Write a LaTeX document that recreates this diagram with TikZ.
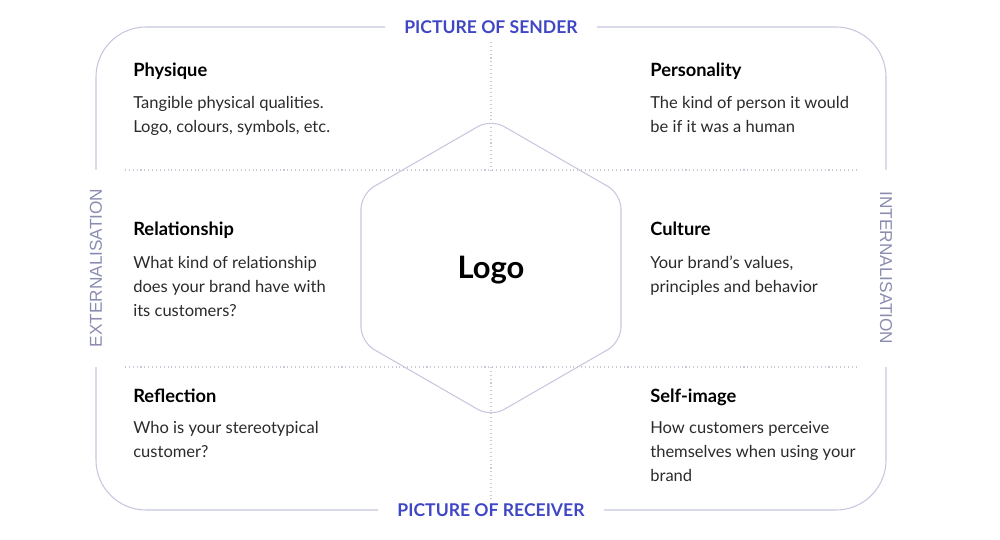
\documentclass[tikz,border=0pt]{standalone}
\usepackage{fontspec}
\setmainfont{Lato}
\newfontfamily\sidefont{Liberation Sans}
\definecolor{framecol}{HTML}{C6C7DE}
\definecolor{dotcol}{HTML}{C9CAD6}
\definecolor{labelblue}{HTML}{4047C4}
\definecolor{sidegrey}{HTML}{8A8DB0}
\definecolor{bodytext}{HTML}{2A2A2A}
\tikzset{
  frameline/.style={framecol, line width=0.6pt},
  gridline/.style={dotcol, line width=0.6pt, dash pattern=on 0.6pt off 1.6pt},
  headtext/.style={anchor=base west, inner sep=0pt, font=\fontsize{10.4}{12}\selectfont\bfseries},
  bodyblock/.style={anchor=north west, inner sep=0pt, align=left, text=bodytext,
    font=\fontsize{9.4}{13.6}\selectfont},
  axislabel/.style={inner sep=0pt, text=labelblue, font=\fontsize{10}{12}\selectfont\bfseries},
  sidelabel/.style={inner sep=0pt, text=sidegrey, font=\sidefont\fontsize{9.8}{12}\selectfont},
}
\begin{document}
\begin{tikzpicture}[x=0.02cm, y=-0.02cm]
  \useasboundingbox (0,0) rectangle (1000,540);
  % outer frame, broken for the labels
  \draw[frameline, rounded corners=1cm] (385,27) -- (96,27) -- (96,170);
  \draw[frameline, rounded corners=1cm] (96,367) -- (96,510) -- (378,510);
  \draw[frameline, rounded corners=1cm] (604,510) -- (886,510) -- (886,367);
  \draw[frameline, rounded corners=1cm] (886,170) -- (886,27) -- (597,27);
  % dotted grid
  \draw[gridline] (125,170) -- (857,170);
  \draw[gridline] (125,367) -- (857,367);
  \draw[gridline] (491,42) -- (491,170);
  \draw[gridline] (491,367) -- (491,500);
  % hexagon
  \draw[frameline, rounded corners=0.3cm] (491,119) -- (621,194) -- (621,342)
    -- (491,417) -- (361,342) -- (361,194) -- cycle;
  \node[font=\fontsize{17.6}{20}\selectfont\bfseries] (logo) at (491,270) {Logo};
  % axis labels
  \node[axislabel] (sender) at (491,27) {PICTURE OF SENDER};
  \node[axislabel] (receiver) at (491,510) {PICTURE OF RECEIVER};
  \node[sidelabel, rotate=90] (extern) at (96,268) {EXTERNALISATION};
  \node[sidelabel, rotate=-90] (intern) at (886,268) {INTERNALISATION};
  % left column
  \node[headtext] (physique) at (133,77) {Physique};
  \node[bodyblock] (physiquetxt) at (133,96) {Tangible physical qualities.\\Logo, colours, symbols, etc.};
  \node[headtext] (relation) at (133,236) {Relationship};
  \node[bodyblock] (relationtxt) at (133,256) {What kind of relationship\\does your brand have with\\its customers?};
  \node[headtext] (reflect) at (133,402) {Reflection};
  \node[bodyblock] (reflecttxt) at (133,421) {Who is your stereotypical\\customer?};
  % right column
  \node[headtext] (person) at (650,77) {Personality};
  \node[bodyblock] (persontxt) at (650,96) {The kind of person it would\\be if it was a human};
  \node[headtext] (culture) at (650,236) {Culture};
  \node[bodyblock] (culturetxt) at (650,256) {Your brand’s values,\\principles and behavior};
  \node[headtext] (selfimg) at (650,402) {Self-image};
  \node[bodyblock] (selfimgtxt) at (650,421) {How customers perceive\\themselves when using your\\brand};
\end{tikzpicture}
\end{document}
